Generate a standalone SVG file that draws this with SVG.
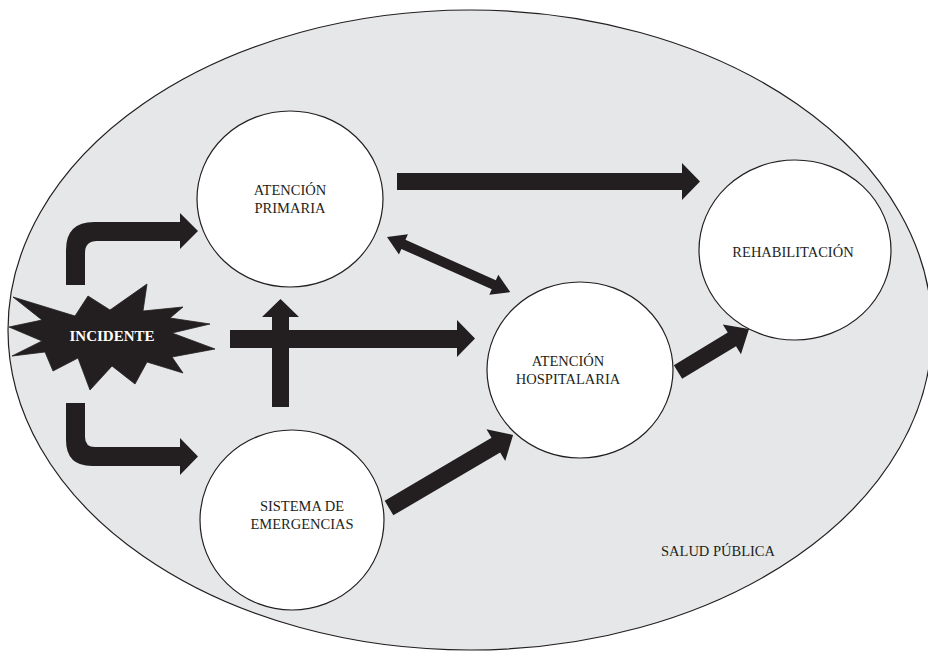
<svg xmlns="http://www.w3.org/2000/svg" width="928" height="656" viewBox="0 0 928 656">
  <style>
    .bg { fill: #ffffff; }
    .region { fill: #e6e7e8; stroke: #231f20; stroke-width: 1.2; }
    .node { fill: #ffffff; stroke: #231f20; stroke-width: 1.2; }
    .lbl { font-family: "Liberation Serif", "Times New Roman", serif; font-size: 14.5px; fill: #231f20; text-anchor: middle; }
    .arrow { fill: #231f20; stroke: none; }
    .burst { fill: #231f20; stroke: #231f20; stroke-width: 0.8; stroke-linejoin: miter; }
    .blbl { font-family: "Liberation Serif", "Times New Roman", serif; font-size: 15px; font-weight: bold; fill: #ffffff; text-anchor: middle; }
  </style>
  <rect class="bg" x="0" y="0" width="928" height="656"/>
  <g id="salud-publica">
    <ellipse class="region" cx="470" cy="330" rx="462" ry="320"/>
    <text class="lbl" x="718" y="556">SALUD PÚBLICA</text>
  </g>
  <g id="connectors">
    <path class="arrow" d="M66,285 L66,250 Q66,222 94,222 L180,222 L180,213 L198,231 L180,249 L180,241 L97,241 Q85,241 85,253 L85,285 Z"/>
    <path class="arrow" d="M66,403 L66,440 Q66,466 92,466 L180,466 L180,475 L198,456.5 L180,438 L180,447 L95,447 Q85,447 85,437 L85,403 Z"/>
    <path class="arrow" d="M230,330 L457,330 L457,320 L475,338.5 L457,357 L457,348 L230,348 Z"/>
    <path class="arrow" d="M272,407 L272,317 L262,317 L280.5,299 L299,317 L289,317 L289,407 Z"/>
    <path class="arrow" d="M397,173 L682,173 L682,163 L700,181.5 L682,200 L682,190 L397,190 Z"/>
    <path class="arrow" transform="translate(387,237) rotate(24.1)" d="M0,0 L18,-11 L18,-5 L117,-5 L117,-11 L135,0 L117,11 L117,5 L18,5 L18,11 Z"/>
    <path class="arrow" transform="translate(389,508) rotate(-30.5)" d="M0,-8.5 L124,-8.5 L124,-18.5 L144,0 L124,18.5 L124,8.5 L0,8.5 Z"/>
    <path class="arrow" transform="translate(678,372) rotate(-31.2)" d="M0,-8 L63,-8 L63,-17.5 L83,0 L63,17.5 L63,8 L0,8 Z"/>
  </g>
  <g id="incidente">
    <polygon class="burst" points="13,297 75,316 88,296 110,310 147,284 143,311 183,307 170,318 210,324 172,333 215,349 172,357 183,373 147,362 135,384 112,366 90,390 78,358 53,371 45,352 12,356 42,341 9,327 42,320"/>
    <text class="blbl" x="112" y="341">INCIDENTE</text>
  </g>
  <g id="atencion-primaria">
    <ellipse class="node" cx="290" cy="199" rx="93" ry="88"/>
    <text class="lbl" x="290" y="195">ATENCIÓN</text>
    <text class="lbl" x="290" y="213">PRIMARIA</text>
  </g>
  <g id="sistema-emergencias">
    <ellipse class="node" cx="292" cy="520" rx="92" ry="90"/>
    <text class="lbl" x="302" y="511">SISTEMA DE</text>
    <text class="lbl" x="302" y="529">EMERGENCIAS</text>
  </g>
  <g id="atencion-hospitalaria">
    <ellipse class="node" cx="580" cy="370" rx="93" ry="88"/>
    <text class="lbl" x="568" y="366">ATENCIÓN</text>
    <text class="lbl" x="568" y="384">HOSPITALARIA</text>
  </g>
  <g id="rehabilitacion">
    <ellipse class="node" cx="795" cy="250" rx="96" ry="90"/>
    <text class="lbl" x="793" y="257">REHABILITACIÓN</text>
  </g>
</svg>
